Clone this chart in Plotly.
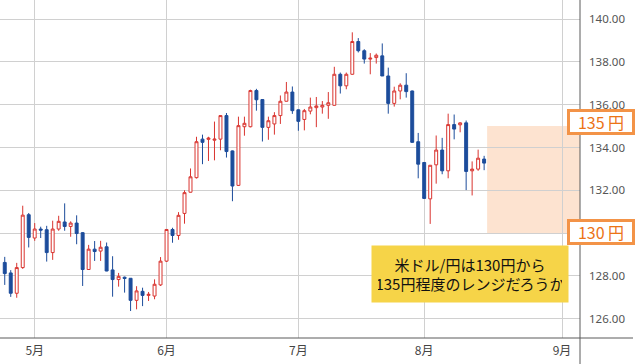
import plotly.graph_objects as go

dates = [
    "2022-04-25", "2022-04-26", "2022-04-27", "2022-04-28", "2022-04-29",
    "2022-05-02", "2022-05-03", "2022-05-04", "2022-05-05", "2022-05-06",
    "2022-05-09", "2022-05-10", "2022-05-11", "2022-05-12", "2022-05-13",
    "2022-05-16", "2022-05-17", "2022-05-18", "2022-05-19", "2022-05-20",
    "2022-05-23", "2022-05-24", "2022-05-25", "2022-05-26", "2022-05-27",
    "2022-05-30", "2022-05-31",
    "2022-06-01", "2022-06-02", "2022-06-03",
    "2022-06-06", "2022-06-07", "2022-06-08", "2022-06-09", "2022-06-10",
    "2022-06-13", "2022-06-14", "2022-06-15", "2022-06-16", "2022-06-17",
    "2022-06-20", "2022-06-21", "2022-06-22", "2022-06-23", "2022-06-24",
    "2022-06-27", "2022-06-28", "2022-06-29", "2022-06-30", "2022-07-01",
    "2022-07-04", "2022-07-05", "2022-07-06", "2022-07-07", "2022-07-08",
    "2022-07-11", "2022-07-12", "2022-07-13", "2022-07-14", "2022-07-15",
    "2022-07-18", "2022-07-19", "2022-07-20", "2022-07-21", "2022-07-22",
    "2022-07-25", "2022-07-26", "2022-07-27", "2022-07-28", "2022-07-29",
    "2022-08-01", "2022-08-02", "2022-08-03", "2022-08-04", "2022-08-05",
    "2022-08-08", "2022-08-09", "2022-08-10", "2022-08-11", "2022-08-12",
    "2022-08-15",
]

open_ = [
    128.63, 128.14, 127.19, 128.39, 130.86,
    129.77, 130.19, 130.16, 129.09, 130.19,
    130.52, 130.31, 130.47, 130.02, 128.30,
    129.25, 129.16, 129.36, 128.28, 127.83,
    127.94, 127.89, 126.86, 127.28, 127.09,
    127.06, 127.58,
    128.69, 130.17, 129.89,
    130.92, 131.91, 132.59, 134.39, 134.38,
    134.34, 134.39, 135.49, 133.84, 132.23,
    134.97, 134.97, 136.66, 136.24, 134.94,
    135.10, 135.49, 136.16, 136.59, 135.76,
    135.31, 135.70, 135.86, 135.89, 135.97,
    135.97, 137.42, 136.88, 137.42, 138.95,
    138.52, 138.13, 138.20, 138.28, 137.34,
    136.06, 136.64, 136.91, 136.64, 134.27,
    133.30, 131.60, 133.19, 133.88, 132.91,
    135.07, 135.06, 135.15, 132.91, 132.99,
    133.46,
]

high = [
    128.89, 128.27, 128.61, 131.28, 130.94,
    130.47, 130.30, 130.34, 130.58, 130.81,
    131.39, 130.55, 130.83, 130.05, 129.45,
    129.63, 129.64, 129.56, 128.92, 128.14,
    127.97, 127.90, 127.52, 127.45, 127.25,
    127.84, 128.88,
    130.17, 130.25, 130.98,
    132.00, 133.02, 134.50, 134.60, 134.50,
    135.21, 135.50, 135.61, 133.86, 135.44,
    135.44, 136.70, 136.74, 136.26, 135.44,
    135.65, 136.43, 137.06, 136.85, 135.78,
    135.80, 136.33, 136.36, 136.17, 136.59,
    137.77, 137.50, 137.50, 139.38, 139.11,
    138.59, 138.41, 138.39, 138.86, 137.73,
    136.84, 137.00, 137.47, 136.66, 134.68,
    133.32, 133.17, 134.56, 134.45, 135.58,
    135.54, 135.18, 135.26, 133.35, 133.90,
    133.61,
]

low = [
    127.58, 127.02, 126.98, 128.33, 129.33,
    129.64, 129.77, 128.67, 128.75, 130.11,
    130.11, 129.83, 129.48, 127.53, 128.28,
    128.70, 128.70, 128.22, 127.03, 127.50,
    127.22, 126.36, 126.44, 126.59, 126.83,
    126.91, 127.53,
    128.65, 129.55, 129.69,
    130.44, 131.90, 132.55, 133.22, 133.37,
    133.40, 133.87, 133.53, 131.49, 132.20,
    134.55, 134.94, 135.72, 134.28, 134.36,
    134.60, 135.10, 136.15, 135.57, 134.78,
    134.80, 135.55, 134.95, 135.58, 135.34,
    135.96, 136.52, 136.72, 137.40, 138.44,
    137.92, 137.42, 137.92, 137.34, 135.58,
    135.91, 136.25, 136.33, 134.22, 132.56,
    131.60, 130.43, 132.31, 132.75, 132.56,
    134.38, 134.71, 132.01, 131.76, 132.91,
    132.94,
]

close = [
    128.11, 127.19, 128.39, 130.84, 129.80,
    130.19, 130.14, 129.09, 130.19, 130.55,
    130.31, 130.47, 129.98, 128.30, 129.25,
    129.14, 129.34, 128.23, 127.83, 127.98,
    127.88, 126.86, 127.30, 127.09, 127.14,
    127.61, 128.69,
    130.17, 129.89, 130.83,
    131.89, 132.63, 134.27, 134.24, 134.44,
    134.39, 135.49, 133.81, 132.20, 135.02,
    135.13, 136.66, 136.23, 134.94, 135.25,
    135.49, 136.16, 136.59, 135.72, 135.22,
    135.72, 135.89, 135.94, 135.97, 136.09,
    137.42, 136.88, 137.42, 138.95, 138.52,
    138.13, 138.17, 138.31, 137.34, 136.06,
    136.64, 136.91, 136.61, 134.24, 133.22,
    131.62, 133.17, 133.88, 132.91, 135.07,
    134.86, 135.15, 132.88, 132.99, 133.50,
    133.27,
]

month_ticks = ["2022-05-02", "2022-06-01", "2022-07-01", "2022-08-01", "2022-09-01"]
month_labels = ["5月", "6月", "7月", "8月", "9月"]
y_ticks = [126, 128, 130, 132, 134, 136, 138, 140]

range_low = 130
range_high = 135
range_start = "2022-08-15 12:00"
x_range = ["2022-04-22 05:00", "2022-09-06 00:00"]

RED = "#d9342f"
BLUE = "#1c4c9b"
ORANGE = "#f39347"

fig = go.Figure()
fig.add_trace(go.Candlestick(
    x=dates, open=open_, high=high, low=low, close=close,
    increasing=dict(line=dict(color=RED, width=1), fillcolor="white"),
    decreasing=dict(line=dict(color=BLUE, width=1), fillcolor=BLUE),
    whiskerwidth=0,
    showlegend=False,
    hoverinfo="skip",
))

fig.add_shape(type="rect", xref="x", yref="y",
              x0=range_start, x1=x_range[1], y0=range_low, y1=range_high,
              fillcolor="#fde3d0", line=dict(width=0), layer="below")

# extended axis lines
fig.add_shape(type="line", xref="paper", yref="paper", x0=1, x1=1, y0=-0.08, y1=1,
              line=dict(color="#5a5a5a", width=1))
fig.add_shape(type="line", xref="paper", yref="paper", x0=0, x1=633 / 580, y0=0, y1=0,
              line=dict(color="#5a5a5a", width=1))

for val, yoff in ((range_high, 135.2), (range_low, 130.05)):
    fig.add_annotation(
        x=601 / 580, xref="paper", y=yoff, yref="y",
        text=f"{val} 円", showarrow=False,
        font=dict(family="Noto Sans CJK JP", size=16, color="#ec7316"),
        bgcolor="white", bordercolor=ORANGE, borderwidth=3, borderpad=1,
        width=60, height=18, xanchor="center", yanchor="middle",
    )

fig.add_annotation(
    x=470 / 580, xref="paper", y=(338 - 274) / 338, yref="paper",
    text="米ドル/円は130円から<br>135円程度のレンジだろうか",
    showarrow=False, align="center",
    font=dict(family="Noto Sans CJK JP", size=15, color="#111111"),
    bgcolor="#f6d448", borderpad=6, width=184, height=44,
    xanchor="center", yanchor="middle",
)

fig.update_layout(
    width=640, height=364,
    margin=dict(l=0, r=60, t=0, b=26, autoexpand=False),
    paper_bgcolor="white", plot_bgcolor="white",
    showlegend=False,
    xaxis=dict(
        type="date", range=x_range,
        rangebreaks=[dict(bounds=["sat", "mon"])],
        rangeslider=dict(visible=False),
        tickvals=month_ticks, ticktext=month_labels,
        showgrid=True, gridcolor="#d0d0d0", gridwidth=1,
        showline=False, zeroline=False, automargin=False,
        ticks="", ticklabelstandoff=4,
        tickfont=dict(family="Noto Sans CJK JP", size=12, color="#444444"),
    ),
    yaxis=dict(
        side="right", range=[125.1, 140.89],
        tickvals=y_ticks, tickformat=".2f",
        showgrid=True, gridcolor="#d0d0d0", gridwidth=1,
        showline=False, zeroline=False, automargin=False,
        ticks="", ticklabelstandoff=8,
        tickfont=dict(family="Noto Sans", size=11.5, color="#555555"),
    ),
)

fig.write_html(
    "out.html",
    config={"displayModeBar": False},
    post_script="document.body.style.margin='0';document.body.style.overflow='hidden';",
)
